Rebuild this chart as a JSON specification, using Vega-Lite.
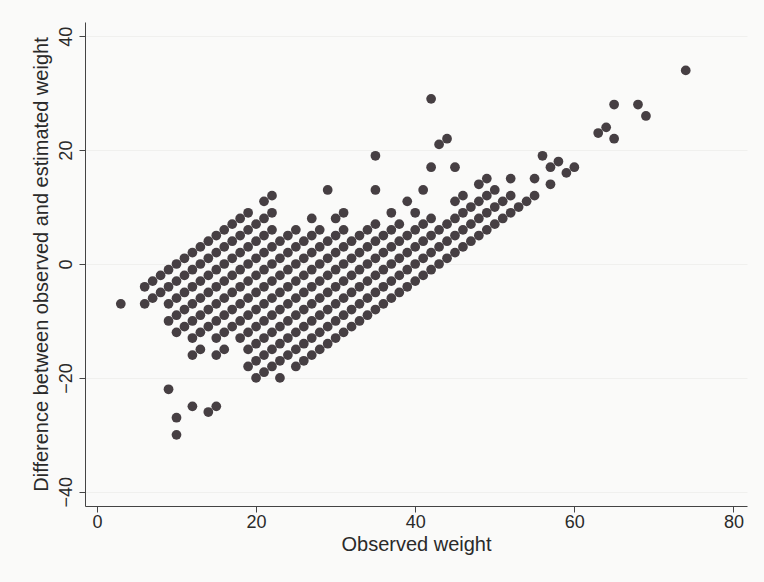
{
"$schema": "https://vega.github.io/schema/vega-lite/v6.json",
"width": 662, "height": 484,
"autosize": "none",
"padding": {"left": 85, "top": 22, "right": 17, "bottom": 76},
"background": "#fafaf9",
"config": {"view": {"stroke": null}, "font": "Liberation Sans"},
"data": {"values": [
{"x":3,"y":-7},{"x":6,"y":-4},{"x":7,"y":-3},{"x":8,"y":-2},{"x":9,"y":-1},{"x":10,"y":0},{"x":11,"y":1},{"x":12,"y":2},{"x":13,"y":3},{"x":14,"y":4},{"x":15,"y":5},{"x":16,"y":6},{"x":17,"y":7},{"x":18,"y":8},{"x":19,"y":9},{"x":21,"y":11},{"x":22,"y":12},
{"x":6,"y":-7},{"x":7,"y":-6},{"x":8,"y":-5},{"x":9,"y":-4},{"x":10,"y":-3},{"x":11,"y":-2},{"x":12,"y":-1},{"x":13,"y":0},{"x":14,"y":1},{"x":15,"y":2},{"x":16,"y":3},{"x":17,"y":4},{"x":18,"y":5},{"x":19,"y":6},{"x":20,"y":7},{"x":21,"y":8},{"x":22,"y":9},{"x":42,"y":29},
{"x":9,"y":-7},{"x":10,"y":-6},{"x":11,"y":-5},{"x":12,"y":-4},{"x":13,"y":-3},{"x":14,"y":-2},{"x":15,"y":-1},{"x":16,"y":0},{"x":17,"y":1},{"x":18,"y":2},{"x":19,"y":3},{"x":20,"y":4},{"x":21,"y":5},{"x":22,"y":6},{"x":29,"y":13},{"x":35,"y":19},
{"x":9,"y":-10},{"x":10,"y":-9},{"x":11,"y":-8},{"x":12,"y":-7},{"x":13,"y":-6},{"x":14,"y":-5},{"x":15,"y":-4},{"x":16,"y":-3},{"x":17,"y":-2},{"x":18,"y":-1},{"x":19,"y":0},{"x":20,"y":1},{"x":21,"y":2},{"x":22,"y":3},{"x":23,"y":4},{"x":24,"y":5},{"x":25,"y":6},{"x":27,"y":8},
{"x":10,"y":-12},{"x":11,"y":-11},{"x":12,"y":-10},{"x":13,"y":-9},{"x":14,"y":-8},{"x":15,"y":-7},{"x":16,"y":-6},{"x":17,"y":-5},{"x":18,"y":-4},{"x":19,"y":-3},{"x":20,"y":-2},{"x":21,"y":-1},{"x":22,"y":0},{"x":23,"y":1},{"x":24,"y":2},{"x":25,"y":3},{"x":26,"y":4},{"x":27,"y":5},{"x":28,"y":6},{"x":30,"y":8},{"x":31,"y":9},{"x":35,"y":13},{"x":43,"y":21},{"x":44,"y":22},
{"x":12,"y":-13},{"x":13,"y":-12},{"x":14,"y":-11},{"x":15,"y":-10},{"x":16,"y":-9},{"x":17,"y":-8},{"x":18,"y":-7},{"x":19,"y":-6},{"x":20,"y":-5},{"x":21,"y":-4},{"x":22,"y":-3},{"x":23,"y":-2},{"x":24,"y":-1},{"x":25,"y":0},{"x":26,"y":1},{"x":27,"y":2},{"x":28,"y":3},{"x":29,"y":4},{"x":30,"y":5},{"x":31,"y":6},{"x":42,"y":17},
{"x":12,"y":-16},{"x":13,"y":-15},{"x":15,"y":-13},{"x":16,"y":-12},{"x":17,"y":-11},{"x":18,"y":-10},{"x":19,"y":-9},{"x":20,"y":-8},{"x":21,"y":-7},{"x":22,"y":-6},{"x":23,"y":-5},{"x":24,"y":-4},{"x":25,"y":-3},{"x":26,"y":-2},{"x":27,"y":-1},{"x":28,"y":0},{"x":29,"y":1},{"x":30,"y":2},{"x":31,"y":3},{"x":32,"y":4},{"x":33,"y":5},{"x":34,"y":6},{"x":35,"y":7},{"x":37,"y":9},{"x":39,"y":11},{"x":41,"y":13},{"x":45,"y":17},
{"x":9,"y":-22},{"x":15,"y":-16},{"x":16,"y":-15},{"x":18,"y":-13},{"x":19,"y":-12},{"x":20,"y":-11},{"x":21,"y":-10},{"x":22,"y":-9},{"x":23,"y":-8},{"x":24,"y":-7},{"x":25,"y":-6},{"x":26,"y":-5},{"x":27,"y":-4},{"x":28,"y":-3},{"x":29,"y":-2},{"x":30,"y":-1},{"x":31,"y":0},{"x":32,"y":1},{"x":33,"y":2},{"x":34,"y":3},{"x":35,"y":4},{"x":36,"y":5},{"x":37,"y":6},{"x":38,"y":7},{"x":40,"y":9},
{"x":19,"y":-15},{"x":20,"y":-14},{"x":21,"y":-13},{"x":22,"y":-12},{"x":23,"y":-11},{"x":24,"y":-10},{"x":25,"y":-9},{"x":26,"y":-8},{"x":27,"y":-7},{"x":28,"y":-6},{"x":29,"y":-5},{"x":30,"y":-4},{"x":31,"y":-3},{"x":32,"y":-2},{"x":33,"y":-1},{"x":34,"y":0},{"x":35,"y":1},{"x":36,"y":2},{"x":37,"y":3},{"x":38,"y":4},{"x":39,"y":5},{"x":40,"y":6},{"x":41,"y":7},{"x":42,"y":8},{"x":45,"y":11},{"x":46,"y":12},{"x":48,"y":14},{"x":49,"y":15},
{"x":10,"y":-27},{"x":12,"y":-25},{"x":19,"y":-18},{"x":20,"y":-17},{"x":21,"y":-16},{"x":22,"y":-15},{"x":23,"y":-14},{"x":24,"y":-13},{"x":25,"y":-12},{"x":26,"y":-11},{"x":27,"y":-10},{"x":28,"y":-9},{"x":29,"y":-8},{"x":30,"y":-7},{"x":31,"y":-6},{"x":32,"y":-5},{"x":33,"y":-4},{"x":34,"y":-3},{"x":35,"y":-2},{"x":36,"y":-1},{"x":37,"y":0},{"x":38,"y":1},{"x":39,"y":2},{"x":40,"y":3},{"x":41,"y":4},{"x":42,"y":5},{"x":43,"y":6},{"x":44,"y":7},{"x":45,"y":8},{"x":46,"y":9},{"x":47,"y":10},{"x":48,"y":11},{"x":49,"y":12},{"x":50,"y":13},{"x":52,"y":15},{"x":56,"y":19},{"x":65,"y":28},
{"x":10,"y":-30},{"x":14,"y":-26},{"x":15,"y":-25},{"x":20,"y":-20},{"x":21,"y":-19},{"x":22,"y":-18},{"x":23,"y":-17},{"x":24,"y":-16},{"x":25,"y":-15},{"x":26,"y":-14},{"x":27,"y":-13},{"x":28,"y":-12},{"x":29,"y":-11},{"x":30,"y":-10},{"x":31,"y":-9},{"x":32,"y":-8},{"x":33,"y":-7},{"x":34,"y":-6},{"x":35,"y":-5},{"x":36,"y":-4},{"x":37,"y":-3},{"x":38,"y":-2},{"x":39,"y":-1},{"x":40,"y":0},{"x":41,"y":1},{"x":42,"y":2},{"x":43,"y":3},{"x":44,"y":4},{"x":45,"y":5},{"x":46,"y":6},{"x":47,"y":7},{"x":48,"y":8},{"x":49,"y":9},{"x":50,"y":10},{"x":51,"y":11},{"x":52,"y":12},{"x":55,"y":15},{"x":57,"y":17},{"x":58,"y":18},{"x":63,"y":23},{"x":64,"y":24},{"x":68,"y":28},{"x":74,"y":34},
{"x":23,"y":-20},{"x":25,"y":-18},{"x":26,"y":-17},{"x":27,"y":-16},{"x":28,"y":-15},{"x":29,"y":-14},{"x":30,"y":-13},{"x":31,"y":-12},{"x":32,"y":-11},{"x":33,"y":-10},{"x":34,"y":-9},{"x":35,"y":-8},{"x":36,"y":-7},{"x":37,"y":-6},{"x":38,"y":-5},{"x":39,"y":-4},{"x":40,"y":-3},{"x":41,"y":-2},{"x":42,"y":-1},{"x":43,"y":0},{"x":44,"y":1},{"x":45,"y":2},{"x":46,"y":3},{"x":47,"y":4},{"x":48,"y":5},{"x":49,"y":6},{"x":50,"y":7},{"x":51,"y":8},{"x":52,"y":9},{"x":53,"y":10},{"x":54,"y":11},{"x":55,"y":12},{"x":57,"y":14},{"x":59,"y":16},{"x":60,"y":17},{"x":65,"y":22},{"x":69,"y":26}
]},
"mark": {"type": "circle", "size": 95, "color": "#463f43", "opacity": 1},
"encoding": {
  "x": {"field": "x", "type": "quantitative", "title": "Observed weight",
    "scale": {"domain": [-1.5, 81.7], "nice": false, "zero": false},
    "axis": {"values": [0, 20, 40, 60, 80], "grid": false, "domainColor": "#444444", "tickColor": "#444444", "tickSize": 6,
      "labelFontSize": 18, "labelColor": "#2a2a2a", "labelPadding": 1, "labelFlush": false,
      "titleFontSize": 20, "titleFontWeight": "normal", "titleColor": "#2a2a2a", "titlePadding": 3}},
  "y": {"field": "y", "type": "quantitative", "title": "Difference between observed and estimated weight",
    "scale": {"domain": [-42.5, 42.5], "nice": false, "zero": false},
    "axis": {"values": [-40, -20, 0, 20, 40], "grid": true, "gridColor": "#f0f0ee", "domainColor": "#444444", "tickColor": "#444444", "tickSize": 6,
      "labelAngle": -90, "labelAlign": "center", "labelBaseline": "bottom", "labelFontSize": 18, "labelColor": "#2a2a2a", "labelPadding": 4, "labelFlush": false,
      "titleFontSize": 20, "titleFontWeight": "normal", "titleColor": "#2a2a2a", "titlePadding": 6}}
}
}
